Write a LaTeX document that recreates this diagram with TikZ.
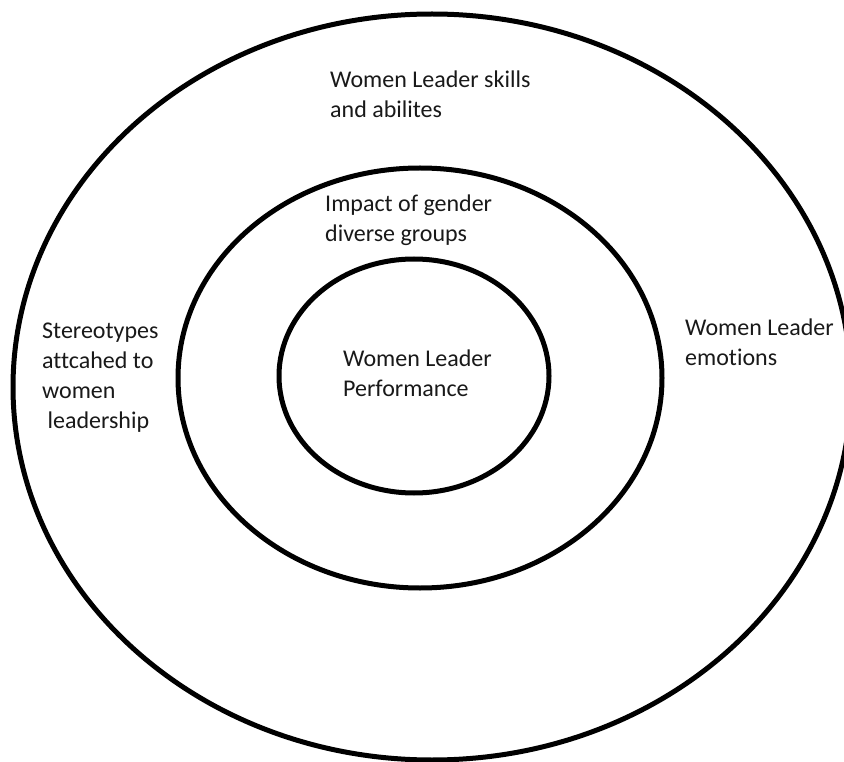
\documentclass[tikz,border=0pt]{standalone}
\usepackage{fontspec}
\setmainfont{Carlito}[Ligatures=NoCommon]
\usetikzlibrary{shapes.geometric}

\begin{document}
\begin{tikzpicture}[
	x=1pt, y=-1pt,
	ring/.style={ellipse, draw, line width=5pt, inner sep=0pt},
	ringtext/.style={anchor=north west, inner sep=0pt, align=left, text=black!90, font=\fontsize{24}{30}\selectfont},
]
	\useasboundingbox (0,0) rectangle (844,762);
	\clip (0,0) rectangle (844,762);
	\fill[white] (0,0) rectangle (844,762);

	% Rings
	\node[ring, minimum width=838pt, minimum height=746pt] (outer) at (432,387) {};
	\node[ring, minimum width=484pt, minimum height=420pt] (middle) at (420,378) {};
	\node[ring, minimum width=270pt, minimum height=234pt] (inner) at (414,376) {};

	% Outer ring texts
	\node[ringtext] (skills) at (330,71) {Women Leader skills\\and abilites};
	\node[ringtext] (stereo) at (42,323) {Stereotypes\\attcahed to\\women\\\ leadership};
	\node[ringtext] (emotions) at (685,319) {Women Leader\\emotions};

	% Middle ring text
	\node[ringtext] (impact) at (325,195) {Impact of gender\\diverse groups};

	% Core text
	\node[ringtext] (perf) at (343,350) {Women Leader\\Performance};
\end{tikzpicture}
\end{document}
